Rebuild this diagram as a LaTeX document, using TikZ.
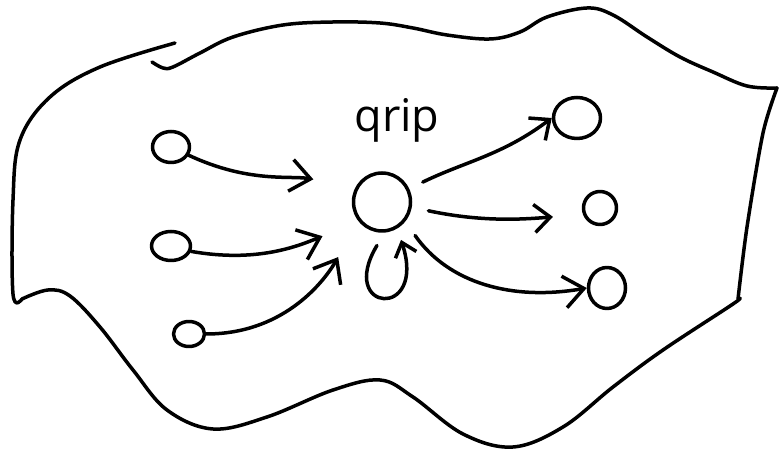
\documentclass[tikz,border=0pt]{standalone}
\usepackage{fontspec}
\newfontfamily\handfont{Open Sans}
\usetikzlibrary{arrows.meta,shapes.geometric}
\begin{document}
\begin{tikzpicture}[x=1pt,y=1pt,line width=3.5pt,line cap=round,line join=round,
  blob/.style={line width=3.5pt},
  dot/.style={draw,ellipse,inner sep=0pt},
  arr/.style={-{Straight Barb[length=20pt,width=32pt]}},
  arrsmall/.style={-{Straight Barb[length=13pt,width=22pt]}},
  arrmid/.style={-{Straight Barb[length=16pt,width=28pt]}}]
\useasboundingbox (0,0) rectangle (779,454);
% outline
\draw[blob] plot[smooth,tension=.6] coordinates {(175,411) (100,387) (50,357) (20,314) (13,254) (13,160) (22,155)};
\draw[blob] plot[smooth,tension=.6] coordinates {(22,155) (48,164) (70,158) (100,127) (133,84) (167,44) (213,25) (267,37) (333,64) (380,74) (413,57) (463,20) (513,7) (563,27) (613,67) (663,104) (733,150) (738,155)};
\draw[blob] plot[smooth,tension=.5] coordinates {(738,155) (747,227) (763,321) (777,366)};
\draw[blob] plot[smooth,tension=.6] coordinates {(777,366) (747,368) (713,382) (680,397) (647,417) (613,439) (587,446) (547,437) (520,422) (490,415) (447,419) (413,426) (380,431) (333,432) (283,429) (233,417) (200,401) (173,387) (163,386) (152,392)};
% nodes
\node[dot,minimum width=37pt,minimum height=31pt] (in1) at (171,307) {};
\node[dot,minimum width=39pt,minimum height=29pt] (in2) at (171,208) {};
\node[dot,minimum width=31pt,minimum height=25pt] (in3) at (189,120) {};
\node[dot,minimum width=57pt,minimum height=58pt] (c) at (382,252) {};
\node[dot,minimum width=47pt,minimum height=41pt] (out1) at (577,336) {};
\node[dot,minimum width=33pt,minimum height=33pt] (out2) at (600,246) {};
\node[dot,minimum width=37pt,minimum height=41pt] (out3) at (607,166) {};
\node[font=\handfont\fontsize{45}{45}\selectfont,anchor=base,inner sep=0pt] (lbl) at (397,322) {qrip};
% incoming
\draw[arr,shorten >=43pt] (in1.-25) to[out=-25,in=170] (c.150);
\draw[arr,shorten >=39pt] (in2.-15) to[out=-10,in=202] (c.220);
\draw[arr,shorten >=41pt] (in3.east) to[out=0,in=240] (c.220);
% self loop
\draw[arrsmall,shorten <=15pt,shorten >=12pt] (c.-85) .. controls +(-48,-80) and +(30,-92) .. (c.-60);
% outgoing
\draw[arrmid,shorten <=15pt] (c.26) to[out=26,in=217] (out1.west);
\draw[arrmid,shorten <=17pt,shorten >=30pt] (c.-10) to[out=-12,in=185] (out2.200);
\draw[arr,shorten <=17pt] (c.-40) to[out=-55,in=190] (out3.west);
\end{tikzpicture}
\end{document}
